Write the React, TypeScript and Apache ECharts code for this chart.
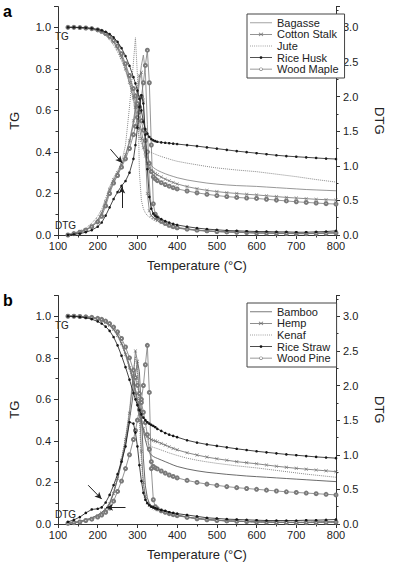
import React, { useEffect, useRef } from 'react';
import * as echarts from 'echarts';

// Temperature sampling points (°C)
const temps = [
  125, 140, 155, 170, 185,
  200, 210, 220, 230, 240, 250, 260, 270, 280, 290,
  295, 300, 305, 310, 315, 320, 325, 330, 335, 340, 345, 350,
  360, 370, 380, 390, 400,
  425, 450, 475, 500, 525, 550, 575, 600, 625, 650, 675, 700, 725, 750, 775, 800,
];

// ---------- Panel a : TG ----------
const bagasseTG = [
  1.0, 1.0, 0.999, 0.997, 0.993,
  0.987, 0.98, 0.97, 0.955, 0.935, 0.905, 0.865, 0.815, 0.755, 0.685,
  0.645, 0.6, 0.55, 0.5, 0.455, 0.41, 0.375, 0.35, 0.335, 0.325, 0.318, 0.312,
  0.303, 0.295, 0.288, 0.282, 0.276,
  0.265, 0.257, 0.25, 0.245, 0.241, 0.238, 0.236, 0.234, 0.231, 0.228, 0.225, 0.222, 0.219, 0.217, 0.215, 0.213,
];
const cottonStalkTG = [
  1.0, 1.0, 0.999, 0.997, 0.993,
  0.986, 0.978, 0.967, 0.95, 0.928, 0.897, 0.855, 0.8, 0.735, 0.66,
  0.615, 0.565, 0.515, 0.465, 0.42, 0.38, 0.345, 0.322, 0.31, 0.302, 0.296, 0.29,
  0.279, 0.269, 0.261, 0.253, 0.246,
  0.233, 0.223, 0.215, 0.209, 0.204, 0.2, 0.196, 0.193, 0.189, 0.185, 0.181, 0.178, 0.175, 0.172, 0.17, 0.168,
];
const juteTG = [
  1.0, 0.999, 0.998, 0.995, 0.99,
  0.982, 0.973, 0.96, 0.94, 0.915, 0.882, 0.84, 0.79, 0.73, 0.645,
  0.585, 0.52, 0.47, 0.44, 0.425, 0.415, 0.408, 0.402, 0.397, 0.393, 0.389, 0.385,
  0.378, 0.372, 0.366, 0.36, 0.355,
  0.346, 0.338, 0.33, 0.323, 0.318, 0.313, 0.309, 0.305, 0.299, 0.293, 0.287, 0.281, 0.274, 0.267, 0.261, 0.255,
];
const riceHuskTG = [
  1.0, 1.0, 0.999, 0.998, 0.995,
  0.99, 0.985, 0.978, 0.968, 0.952, 0.93, 0.9, 0.862, 0.815, 0.76,
  0.73, 0.695, 0.655, 0.6, 0.545, 0.51, 0.488, 0.472, 0.462, 0.456, 0.452, 0.449,
  0.446, 0.444, 0.442, 0.44, 0.438,
  0.433, 0.428, 0.422, 0.416, 0.41, 0.404, 0.399, 0.394, 0.389, 0.384, 0.38, 0.377, 0.374, 0.371, 0.368, 0.366,
];
const woodMapleTG = [
  1.0, 1.0, 0.999, 0.997, 0.994,
  0.988, 0.981, 0.971, 0.957, 0.937, 0.91, 0.873, 0.825, 0.768, 0.705,
  0.67, 0.632, 0.592, 0.55, 0.505, 0.455, 0.4, 0.345, 0.305, 0.28, 0.27, 0.262,
  0.252, 0.243, 0.235, 0.228, 0.222,
  0.212, 0.203, 0.196, 0.19, 0.185, 0.181, 0.178, 0.176, 0.172, 0.168, 0.164, 0.16, 0.157, 0.154, 0.151, 0.149,
];

// ---------- Panel a : DTG ----------
const bagasseDTG = [
  0.0, 0.02, 0.04, 0.07, 0.12,
  0.2, 0.3, 0.46, 0.63, 0.77, 0.88, 1.0, 1.14, 1.33, 1.6,
  1.78, 1.98, 2.2, 2.45, 2.6, 2.35, 1.6, 0.75, 0.38, 0.3, 0.26, 0.23,
  0.19, 0.16, 0.14, 0.12, 0.11,
  0.09, 0.07, 0.06, 0.05, 0.045, 0.04, 0.035, 0.03, 0.03, 0.025, 0.025, 0.02, 0.02, 0.025, 0.03, 0.03,
];
const cottonStalkDTG = [
  0.0, 0.02, 0.05, 0.08, 0.13,
  0.22, 0.32, 0.48, 0.66, 0.8, 0.9, 1.02, 1.16, 1.36, 1.65,
  1.85, 2.07, 2.3, 2.35, 1.95, 1.2, 0.6, 0.35, 0.28, 0.25, 0.23, 0.21,
  0.18, 0.15, 0.13, 0.115, 0.1,
  0.08, 0.065, 0.055, 0.05, 0.045, 0.04, 0.035, 0.03, 0.03, 0.025, 0.025, 0.025, 0.02, 0.025, 0.03, 0.035,
];
const juteDTG = [
  0.01, 0.03, 0.06, 0.1, 0.17,
  0.27, 0.37, 0.53, 0.7, 0.83, 0.93, 1.05, 1.3, 1.85, 2.5,
  2.85, 2.3, 0.9, 0.5, 0.38, 0.32, 0.28, 0.26, 0.24, 0.22, 0.21, 0.2,
  0.17, 0.15, 0.13, 0.115, 0.1,
  0.085, 0.07, 0.06, 0.05, 0.045, 0.04, 0.035, 0.03, 0.028, 0.025, 0.022, 0.02, 0.02, 0.022, 0.025, 0.03,
];
const riceHuskDTG = [
  0.0, 0.01, 0.02, 0.04, 0.07,
  0.12, 0.18, 0.28, 0.4, 0.52, 0.62, 0.71, 0.78, 0.9, 1.1,
  1.3, 1.55, 1.85, 2.02, 1.9, 1.45, 0.95, 0.55, 0.38, 0.31, 0.28, 0.26,
  0.23, 0.2, 0.18, 0.16, 0.145,
  0.12, 0.1, 0.085, 0.075, 0.065, 0.06, 0.055, 0.05, 0.05, 0.045, 0.045, 0.04, 0.04, 0.045, 0.05, 0.06,
];
const woodMapleDTG = [
  0.0, 0.02, 0.04, 0.07, 0.12,
  0.19, 0.27, 0.42, 0.6, 0.75, 0.86, 0.98, 1.1, 1.25, 1.45,
  1.57, 1.7, 1.85, 2.0, 2.2, 2.45, 2.67, 2.2, 1.3, 0.45, 0.3, 0.25,
  0.2, 0.17, 0.14, 0.12, 0.105,
  0.085, 0.07, 0.06, 0.05, 0.045, 0.04, 0.035, 0.03, 0.028, 0.025, 0.022, 0.02, 0.02, 0.022, 0.025, 0.03,
];

// ---------- Panel b : TG ----------
const bambooTG = [
  1.0, 1.0, 0.999, 0.997, 0.994,
  0.988, 0.982, 0.972, 0.958, 0.938, 0.91, 0.872, 0.823, 0.763, 0.69,
  0.648, 0.6, 0.55, 0.5, 0.45, 0.405, 0.37, 0.345, 0.332, 0.325, 0.32, 0.316,
  0.308, 0.3, 0.292, 0.284, 0.277,
  0.265, 0.256, 0.249, 0.244, 0.239, 0.235, 0.231, 0.228, 0.225, 0.222, 0.219, 0.216, 0.213, 0.21, 0.207, 0.204,
];
const hempTG = [
  1.0, 1.0, 0.999, 0.997, 0.994,
  0.988, 0.981, 0.971, 0.957, 0.937, 0.908, 0.868, 0.816, 0.752, 0.675,
  0.63, 0.58, 0.53, 0.49, 0.458, 0.435, 0.42, 0.412, 0.406, 0.402, 0.399, 0.396,
  0.388, 0.38, 0.372, 0.364, 0.357,
  0.343, 0.332, 0.322, 0.314, 0.307, 0.3, 0.295, 0.29, 0.284, 0.278, 0.273, 0.268, 0.264, 0.26, 0.256, 0.252,
];
const kenafTG = [
  1.0, 1.0, 0.999, 0.996, 0.993,
  0.987, 0.98, 0.969, 0.954, 0.933, 0.904, 0.864, 0.812, 0.748, 0.672,
  0.628, 0.58, 0.53, 0.48, 0.44, 0.41, 0.392, 0.38, 0.373, 0.369, 0.366, 0.363,
  0.356, 0.349, 0.342, 0.336, 0.33,
  0.317, 0.307, 0.299, 0.292, 0.286, 0.28, 0.275, 0.27, 0.264, 0.258, 0.252, 0.246, 0.24, 0.235, 0.23, 0.225,
];
const riceStrawTG = [
  1.0, 0.999, 0.997, 0.993, 0.986,
  0.975, 0.965, 0.95, 0.93, 0.9, 0.86, 0.81, 0.755, 0.695, 0.63,
  0.6, 0.572, 0.548, 0.528, 0.512, 0.5, 0.49, 0.483, 0.477, 0.472, 0.466, 0.458,
  0.448, 0.438, 0.43, 0.424, 0.418,
  0.403, 0.392, 0.383, 0.376, 0.369, 0.362, 0.356, 0.35, 0.345, 0.34, 0.335, 0.331, 0.327, 0.323, 0.32, 0.317,
];
const woodPineTG = [
  1.0, 1.0, 0.999, 0.997, 0.995,
  0.99, 0.985, 0.977, 0.965, 0.948, 0.925, 0.893, 0.852, 0.8, 0.74,
  0.705, 0.668, 0.628, 0.585, 0.538, 0.488, 0.43, 0.36, 0.3, 0.277, 0.27, 0.265,
  0.255, 0.245, 0.236, 0.229, 0.222,
  0.21, 0.2, 0.192, 0.186, 0.18, 0.175, 0.171, 0.167, 0.163, 0.159, 0.155, 0.152, 0.149, 0.146, 0.143, 0.14,
];

// ---------- Panel b : DTG ----------
const bambooDTG = [
  0.01, 0.02, 0.04, 0.06, 0.09,
  0.13, 0.17, 0.22, 0.3, 0.45, 0.65, 0.88, 1.15, 1.5, 1.9,
  2.15, 2.35, 2.2, 1.6, 0.95, 0.55, 0.38, 0.3, 0.26, 0.24, 0.23, 0.22,
  0.2, 0.18, 0.16, 0.145, 0.13,
  0.1, 0.08, 0.065, 0.055, 0.045, 0.04, 0.035, 0.03, 0.03, 0.025, 0.025, 0.025, 0.025, 0.03, 0.03, 0.03,
];
const hempDTG = [
  0.01, 0.02, 0.03, 0.05, 0.08,
  0.12, 0.16, 0.21, 0.29, 0.44, 0.66, 0.92, 1.22, 1.6, 2.15,
  2.5, 2.35, 1.75, 1.05, 0.6, 0.4, 0.31, 0.27, 0.25, 0.23, 0.22, 0.21,
  0.19, 0.17, 0.155, 0.14, 0.125,
  0.1, 0.08, 0.065, 0.055, 0.045, 0.04, 0.035, 0.03, 0.028, 0.025, 0.025, 0.022, 0.022, 0.025, 0.028, 0.03,
];
const kenafDTG = [
  0.01, 0.02, 0.04, 0.06, 0.09,
  0.13, 0.17, 0.22, 0.31, 0.47, 0.69, 0.95, 1.25, 1.65, 2.2,
  2.42, 2.2, 1.5, 0.9, 0.55, 0.38, 0.3, 0.27, 0.25, 0.23, 0.22, 0.21,
  0.19, 0.17, 0.155, 0.14, 0.125,
  0.1, 0.08, 0.065, 0.055, 0.045, 0.04, 0.035, 0.03, 0.03, 0.025, 0.025, 0.025, 0.025, 0.028, 0.03, 0.03,
];
const riceStrawDTG = [
  0.03, 0.06, 0.1, 0.16, 0.21,
  0.22, 0.24, 0.31, 0.42, 0.56, 0.72, 0.9, 1.12, 1.47, 1.45,
  1.32, 1.12, 0.85, 0.62, 0.45, 0.35, 0.3, 0.27, 0.25, 0.24, 0.23, 0.22,
  0.2, 0.19, 0.17, 0.16, 0.15,
  0.13, 0.11, 0.09, 0.08, 0.07, 0.065, 0.06, 0.055, 0.05, 0.05, 0.05, 0.05, 0.055, 0.055, 0.06, 0.065,
];
const woodPineDTG = [
  0.01, 0.02, 0.03, 0.05, 0.07,
  0.1, 0.13, 0.17, 0.23, 0.33, 0.47, 0.62, 0.8, 1.0, 1.22,
  1.35, 1.5, 1.65, 1.8, 2.0, 2.3, 2.58, 1.9, 0.8, 0.35, 0.25, 0.22,
  0.19, 0.17, 0.15, 0.135, 0.12,
  0.095, 0.075, 0.06, 0.05, 0.045, 0.04, 0.035, 0.03, 0.028, 0.025, 0.022, 0.02, 0.02, 0.022, 0.025, 0.028,
];

// Arrow annotations (temperature, DTG) start -> end
const arrowsA = [
  [[232, 1.24], [262, 1.04]],
  [[261, 0.39], [261, 0.7]],
];
const arrowsB = [
  [[176, 0.56], [210, 0.36]],
  [[270, 0.24], [221, 0.24]],
];

const tgTicks = { min: 0, max: 1.1, interval: 0.2 };
const dtgTicks = { min: 0, max: 3.3, interval: 0.5 };
const tempTicks = { min: 100, max: 800, interval: 100 };

const FONT = '"Liberation Sans", Arial, Helvetica, sans-serif';
const X_SYMBOL = 'path://M1,0L5,4L9,0L10,1L6,5L10,9L9,10L5,6L1,10L0,9L4,5L0,1Z';

// Legend icons (22 wide), line + marker
const LINE_BAR = 'M0,1.6H22V2.4H0Z';
const ICON_PLAIN = 'path://' + LINE_BAR;
const ICON_DOTTED = 'path://' + Array.from({ length: 11 }, (_, i) => `M${i * 2.1},1.6h0.8v0.8h-0.8Z`).join('');
const ICON_CROSS = 'path://' + LINE_BAR +
  'M9.2,0.2L11,1.6L12.8,0.2L13.3,0.6L11.6,2L13.3,3.4L12.8,3.8L11,2.4L9.2,3.8L8.7,3.4L10.4,2L8.7,0.6Z';
const ICON_FILLED = 'path://' + LINE_BAR + 'M9.6,2A1.4,1.4,0,1,1,12.4,2A1.4,1.4,0,1,1,9.6,2Z';
const ICON_OPEN = 'path://M0,1.6H9.3V2.4H0Z M12.7,1.6H22V2.4H12.7Z' +
  'M9.2,2A1.8,1.8,0,1,1,12.8,2A1.8,1.8,0,1,1,9.2,2Z M9.9,2A1.1,1.1,0,1,0,12.1,2A1.1,1.1,0,1,0,9.9,2Z';

type Sty = { color: string; symbol: string; size: number; dash: 'solid' | 'dotted'; width: number; z: number; icon: string };
const sPlain = (c: string): Sty => ({ color: c, symbol: 'none', size: 0, dash: 'solid', width: 0.9, z: 2, icon: ICON_PLAIN });
const sCross = (c: string): Sty => ({ color: c, symbol: X_SYMBOL, size: 3.5, dash: 'solid', width: 0.8, z: 3, icon: ICON_CROSS });
const sDot = (c: string): Sty => ({ color: c, symbol: 'none', size: 0, dash: 'dotted', width: 1, z: 2, icon: ICON_DOTTED });
const sFilled = (c: string): Sty => ({ color: c, symbol: 'circle', size: 2.6, dash: 'solid', width: 0.8, z: 5, icon: ICON_FILLED });
const sOpen = (c: string): Sty => ({ color: c, symbol: 'emptyCircle', size: 3, dash: 'solid', width: 0.8, z: 4, icon: ICON_OPEN });

const panelA = [
  { name: 'Bagasse', tg: bagasseTG, dtg: bagasseDTG, sty: sPlain('#8c8c8c') },
  { name: 'Cotton Stalk', tg: cottonStalkTG, dtg: cottonStalkDTG, sty: sCross('#707070') },
  { name: 'Jute', tg: juteTG, dtg: juteDTG, sty: sDot('#8a8a8a') },
  { name: 'Rice Husk', tg: riceHuskTG, dtg: riceHuskDTG, sty: sFilled('#1a1a1a') },
  { name: 'Wood Maple', tg: woodMapleTG, dtg: woodMapleDTG, sty: sOpen('#7a7a7a') },
];
const panelB = [
  { name: 'Bamboo', tg: bambooTG, dtg: bambooDTG, sty: sPlain('#5a5a5a') },
  { name: 'Hemp', tg: hempTG, dtg: hempDTG, sty: sCross('#6a6a6a') },
  { name: 'Kenaf', tg: kenafTG, dtg: kenafDTG, sty: sDot('#8a8a8a') },
  { name: 'Rice Straw', tg: riceStrawTG, dtg: riceStrawDTG, sty: sFilled('#151515') },
  { name: 'Wood Pine', tg: woodPineTG, dtg: woodPineDTG, sty: sOpen('#7a7a7a') },
];

function buildSeries(panel: typeof panelA, xi: number, yTG: number, yDTG: number, arrows: number[][][], arrowOn: string) {
  const out: any[] = [];
  panel.forEach((m) => {
    const pairs: [number[], number, boolean][] = [[m.tg, yTG, false], [m.dtg, yDTG, true]];
    pairs.forEach(([vals, yi, isDtg]) => {
      const s: any = {
        type: 'line',
        name: m.name,
        xAxisIndex: xi,
        yAxisIndex: yi,
        data: temps.map((t, i) => [t, vals[i]]),
        symbol: m.sty.symbol,
        symbolSize: m.sty.size,
        showSymbol: m.sty.symbol !== 'none',
        lineStyle: { color: m.sty.color, width: m.sty.width, type: m.sty.dash },
        itemStyle: {
          color: m.sty.color,
          borderColor: m.sty.color,
          borderWidth: m.sty.symbol === 'emptyCircle' ? 0.6 : 0,
        },
        silent: true,
        z: m.sty.z,
        emphasis: { disabled: true },
      };
      if (isDtg && m.name === arrowOn) {
        s.markLine = {
          silent: true,
          symbol: ['none', 'arrow'],
          symbolSize: [5, 7],
          label: { show: false },
          lineStyle: { color: '#222', width: 1, type: 'solid' },
          data: arrows.map(([a, b]) => [{ coord: a }, { coord: b }]),
        };
      }
      out.push(s);
    });
  });
  return out;
}

const axisText = { color: '#222', fontFamily: FONT, fontSize: 11 };

function xAxisFor(gi: number) {
  return {
    type: 'value',
    gridIndex: gi,
    ...tempTicks,
    name: 'Temperature (°C)',
    nameLocation: 'middle',
    nameGap: 24,
    nameTextStyle: { color: '#222', fontFamily: FONT, fontSize: 13 },
    axisLine: { show: true, onZero: false, lineStyle: { color: '#333', width: 1 } },
    axisTick: { show: true, length: 4, lineStyle: { color: '#333' } },
    minorTick: { show: true, splitNumber: 2, length: 2.5, lineStyle: { color: '#333' } },
    splitLine: { show: false },
    axisLabel: { ...axisText, margin: 5 },
  };
}
function yAxisFor(gi: number, tg: boolean) {
  return {
    type: 'value',
    gridIndex: gi,
    position: tg ? 'left' : 'right',
    ...(tg ? tgTicks : dtgTicks),
    name: tg ? 'TG' : 'DTG',
    nameLocation: 'middle',
    nameGap: 37,
    nameRotate: tg ? 90 : -90,
    nameTextStyle: { color: '#222', fontFamily: FONT, fontSize: 13 },
    axisLine: { show: true, onZero: false, lineStyle: { color: '#333', width: 1 } },
    axisTick: { show: true, length: 4, lineStyle: { color: '#333' } },
    minorTick: { show: true, splitNumber: 2, length: 2.5, lineStyle: { color: '#333' } },
    splitLine: { show: false },
    axisLabel: { ...axisText, margin: 7, showMaxLabel: false, formatter: (v: number) => v.toFixed(1) },
  };
}

function legendFor(panel: typeof panelA, top: number) {
  return {
    data: panel.map((m) => ({ name: m.name, icon: m.sty.icon })),
    orient: 'vertical',
    left: 247,
    top,
    itemWidth: 22,
    itemHeight: 8,
    itemGap: 0,
    symbolKeepAspect: true,
    padding: [3, 6, 3, 3],
    borderColor: '#444',
    borderWidth: 1,
    backgroundColor: '#fff',
    selectedMode: false,
    itemStyle: { borderWidth: 0 },
    textStyle: { color: '#222', fontFamily: FONT, fontSize: 11, lineHeight: 11.6 },
  };
}

export default function App() {
  const ref = useRef<HTMLDivElement>(null);
  useEffect(() => {
    if (!ref.current) return;
    const chart = echarts.init(ref.current, undefined, { renderer: 'svg' });
    const smallText = (text: string, left: number, top: number) => ({
      type: 'text', left, top, silent: true,
      style: { text, fill: '#222', font: `10px ${FONT}` },
    });
    chart.setOption({
      animation: false,
      backgroundColor: '#fff',
      grid: [
        { left: 43.3, top: 6.6, width: 309, height: 228.4 },
        { left: 43.3, top: 295.5, width: 309, height: 228.5 },
      ],
      xAxis: [xAxisFor(0), xAxisFor(1)],
      yAxis: [yAxisFor(0, true), yAxisFor(0, false), yAxisFor(1, true), yAxisFor(1, false)],
      legend: [legendFor(panelA, 14), legendFor(panelB, 303)],
      series: [
        ...buildSeries(panelA, 0, 0, 1, arrowsA, 'Rice Husk'),
        ...buildSeries(panelB, 1, 2, 3, arrowsB, 'Rice Straw'),
      ],
      graphic: [
        { type: 'text', left: 3, top: 3, silent: true, style: { text: 'a', fill: '#000', font: `bold 16px ${FONT}` } },
        { type: 'text', left: 3, top: 292, silent: true, style: { text: 'b', fill: '#000', font: `bold 16px ${FONT}` } },
        smallText('TG', 55, 31),
        smallText('DTG', 55, 220),
        smallText('TG', 55, 320),
        smallText('DTG', 55, 509),
      ],
    });
    return () => chart.dispose();
  }, []);
  return (
    <div
      ref={ref}
      style={{ position: 'fixed', left: 0, top: 0, width: 394, height: 562, background: '#fff' }}
    />
  );
}
